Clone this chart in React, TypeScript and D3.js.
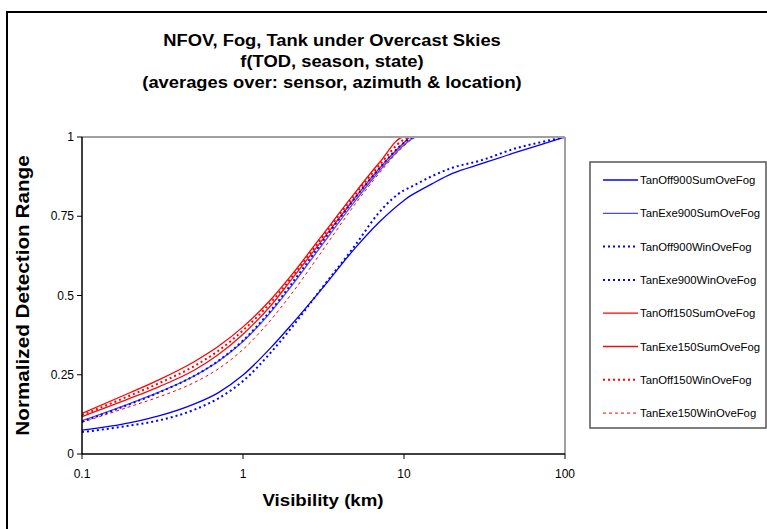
import React from "react";
import * as d3 from "d3";

const xVals = [0.1, 0.2, 0.3, 0.5, 0.7, 1, 1.5, 2, 3, 5, 7, 10, 11, 12, 15, 20, 30, 50, 70, 100];

const tanOff900Sum = [0.075, 0.099, 0.12, 0.158, 0.193, 0.249, 0.337, 0.408, 0.513, 0.651, 0.731, 0.8, 0.815, 0.826, 0.853, 0.885, 0.915, 0.952, 0.975, 1.0];
const tanExe900Sum = [0.105, 0.16, 0.195, 0.247, 0.292, 0.355, 0.45, 0.53, 0.65, 0.8, 0.892, 0.975, 0.992, 1, 1, 1, 1, 1, 1, 1];
const tanOff900Win = [0.069, 0.09, 0.106, 0.14, 0.175, 0.23, 0.322, 0.398, 0.515, 0.66, 0.762, 0.832, 0.842, 0.852, 0.877, 0.903, 0.926, 0.965, 0.983, 1.0];
const tanExe900Win = [0.102, 0.158, 0.194, 0.247, 0.293, 0.358, 0.455, 0.537, 0.658, 0.81, 0.9, 0.982, 0.996, 1, 1, 1, 1, 1, 1, 1];
const tanOff150Sum = [0.128, 0.194, 0.234, 0.292, 0.339, 0.401, 0.489, 0.564, 0.68, 0.826, 0.918, 1, 1, 1, 1, 1, 1, 1, 1, 1];
const tanExe150Sum = [0.118, 0.176, 0.212, 0.265, 0.313, 0.378, 0.47, 0.55, 0.665, 0.81, 0.9, 0.982, 1, 1, 1, 1, 1, 1, 1, 1];
const tanOff150Win = [0.123, 0.185, 0.223, 0.278, 0.325, 0.39, 0.48, 0.557, 0.673, 0.82, 0.91, 0.992, 1, 1, 1, 1, 1, 1, 1, 1];
const tanExe150Win = [0.1, 0.15, 0.18, 0.226, 0.268, 0.33, 0.425, 0.505, 0.63, 0.79, 0.885, 0.972, 0.99, 1, 1, 1, 1, 1, 1, 1];

const seriesNames = [
  "TanOff900SumOveFog",
  "TanExe900SumOveFog",
  "TanOff900WinOveFog",
  "TanExe900WinOveFog",
  "TanOff150SumOveFog",
  "TanExe150SumOveFog",
  "TanOff150WinOveFog",
  "TanExe150WinOveFog",
];
const seriesValues = [tanOff900Sum, tanExe900Sum, tanOff900Win, tanExe900Win, tanOff150Sum, tanExe150Sum, tanOff150Win, tanExe150Win];

const xTicks = [0.1, 1, 10, 100];
const xTickLabels = ["0.1", "1", "10", "100"];
const yTicks = [0, 0.25, 0.5, 0.75, 1];
const yTickLabels = ["0", "0.25", "0.5", "0.75", "1"];

const titleLines = [
  "NFOV, Fog, Tank under Overcast Skies",
  "f(TOD, season, state)",
  "(averages over: sensor, azimuth & location)",
];

const styles = [
  { color: "#0000FF", width: 1.3, dash: "" },
  { color: "#4848FF", width: 1.3, dash: "" },
  { color: "#0000FF", width: 2, dash: "2,3" },
  { color: "#0000FF", width: 2, dash: "2,3" },
  { color: "#FF0000", width: 1.3, dash: "" },
  { color: "#E81010", width: 1.3, dash: "" },
  { color: "#FF0000", width: 2, dash: "2,3" },
  { color: "#FF0000", width: 1, dash: "3,3" },
];

const FONT = "'Liberation Sans', Arial, sans-serif";

export default function App() {
  const left = 82, right = 565, top = 137, bottom = 454;
  const x = d3.scaleLog().domain([0.1, 100]).range([left, right]);
  const y = d3.scaleLinear().domain([0, 1]).range([bottom, top]);
  const line = d3
    .line<number>()
    .x((_, i) => x(xVals[i]))
    .y((v) => y(v))
    .curve(d3.curveMonotoneX);

  const drawOrder = [4, 5, 6, 7, 1, 3, 0, 2];

  return (
    <svg width={767} height={529} style={{ position: "absolute", left: 0, top: 0, background: "#fff" }} fontFamily={FONT}>
      <rect x={0} y={0} width={767} height={529} fill="#fff" />
      <rect x={7} y={12} width={900} height={700} fill="none" stroke="#000" strokeWidth={2} />
      {titleLines.map((t, i) => (
        <text
          key={i}
          transform={`translate(332, ${46 + i * 21}) scale(1.08, 1)`}
          textAnchor="middle"
          fontSize={17}
          fontWeight="bold"
          fill="#000"
        >
          {t}
        </text>
      ))}
      <defs>
        <clipPath id="plotClip">
          <rect x={left} y={top - 1} width={right - left} height={bottom - top + 1} />
        </clipPath>
      </defs>
      <g clipPath="url(#plotClip)">
        {drawOrder.map((si) => (
          <path
            key={si}
            d={line(seriesValues[si]) || ""}
            fill="none"
            stroke={styles[si].color}
            strokeWidth={styles[si].width}
            strokeDasharray={styles[si].dash}
          />
        ))}
      </g>
      <line x1={left} y1={top} x2={right} y2={top} stroke="#a0a0a0" strokeWidth={2} />
      <line x1={right} y1={top} x2={right} y2={bottom} stroke="#a0a0a0" strokeWidth={2} />
      <line x1={left} y1={top} x2={left} y2={bottom} stroke="#000" strokeWidth={1.5} />
      <line x1={left} y1={bottom} x2={right} y2={bottom} stroke="#000" strokeWidth={1.5} />
      {yTicks.map((t, i) => (
        <g key={i}>
          <line x1={left - 5} y1={y(t)} x2={left} y2={y(t)} stroke="#000" strokeWidth={1} />
          <text x={left - 8} y={y(t) + 4} textAnchor="end" fontSize={12} fill="#000">
            {yTickLabels[i]}
          </text>
        </g>
      ))}
      {xTicks.map((t, i) => (
        <g key={i}>
          <line x1={x(t)} y1={bottom} x2={x(t)} y2={bottom + 5} stroke="#000" strokeWidth={1} />
          <text x={x(t)} y={bottom + 24} textAnchor="middle" fontSize={12} fill="#000">
            {xTickLabels[i]}
          </text>
        </g>
      ))}
      <text
        transform="translate(323, 506) scale(1.1, 1)"
        textAnchor="middle"
        fontSize={17}
        fontWeight="bold"
        fill="#000"
      >
        Visibility (km)
      </text>
      <text
        transform={`translate(29, ${(top + bottom) / 2}) rotate(-90) scale(1.15, 1)`}
        textAnchor="middle"
        fontSize={18}
        fontWeight="bold"
        fill="#000"
      >
        Normalized Detection Range
      </text>
      <rect x={590} y={162} width={176} height={266} fill="#fff" stroke="#555" strokeWidth={1.5} />
      {seriesNames.map((n, i) => {
        const ly = 180 + i * 33.3;
        return (
          <g key={n}>
            <line x1={603} y1={ly} x2={638} y2={ly} stroke={styles[i].color} strokeWidth={styles[i].width} strokeDasharray={styles[i].dash} />
            <text x={640} y={ly + 4} fontSize={11.3} fill="#000">
              {n}
            </text>
          </g>
        );
      })}
    </svg>
  );
}
